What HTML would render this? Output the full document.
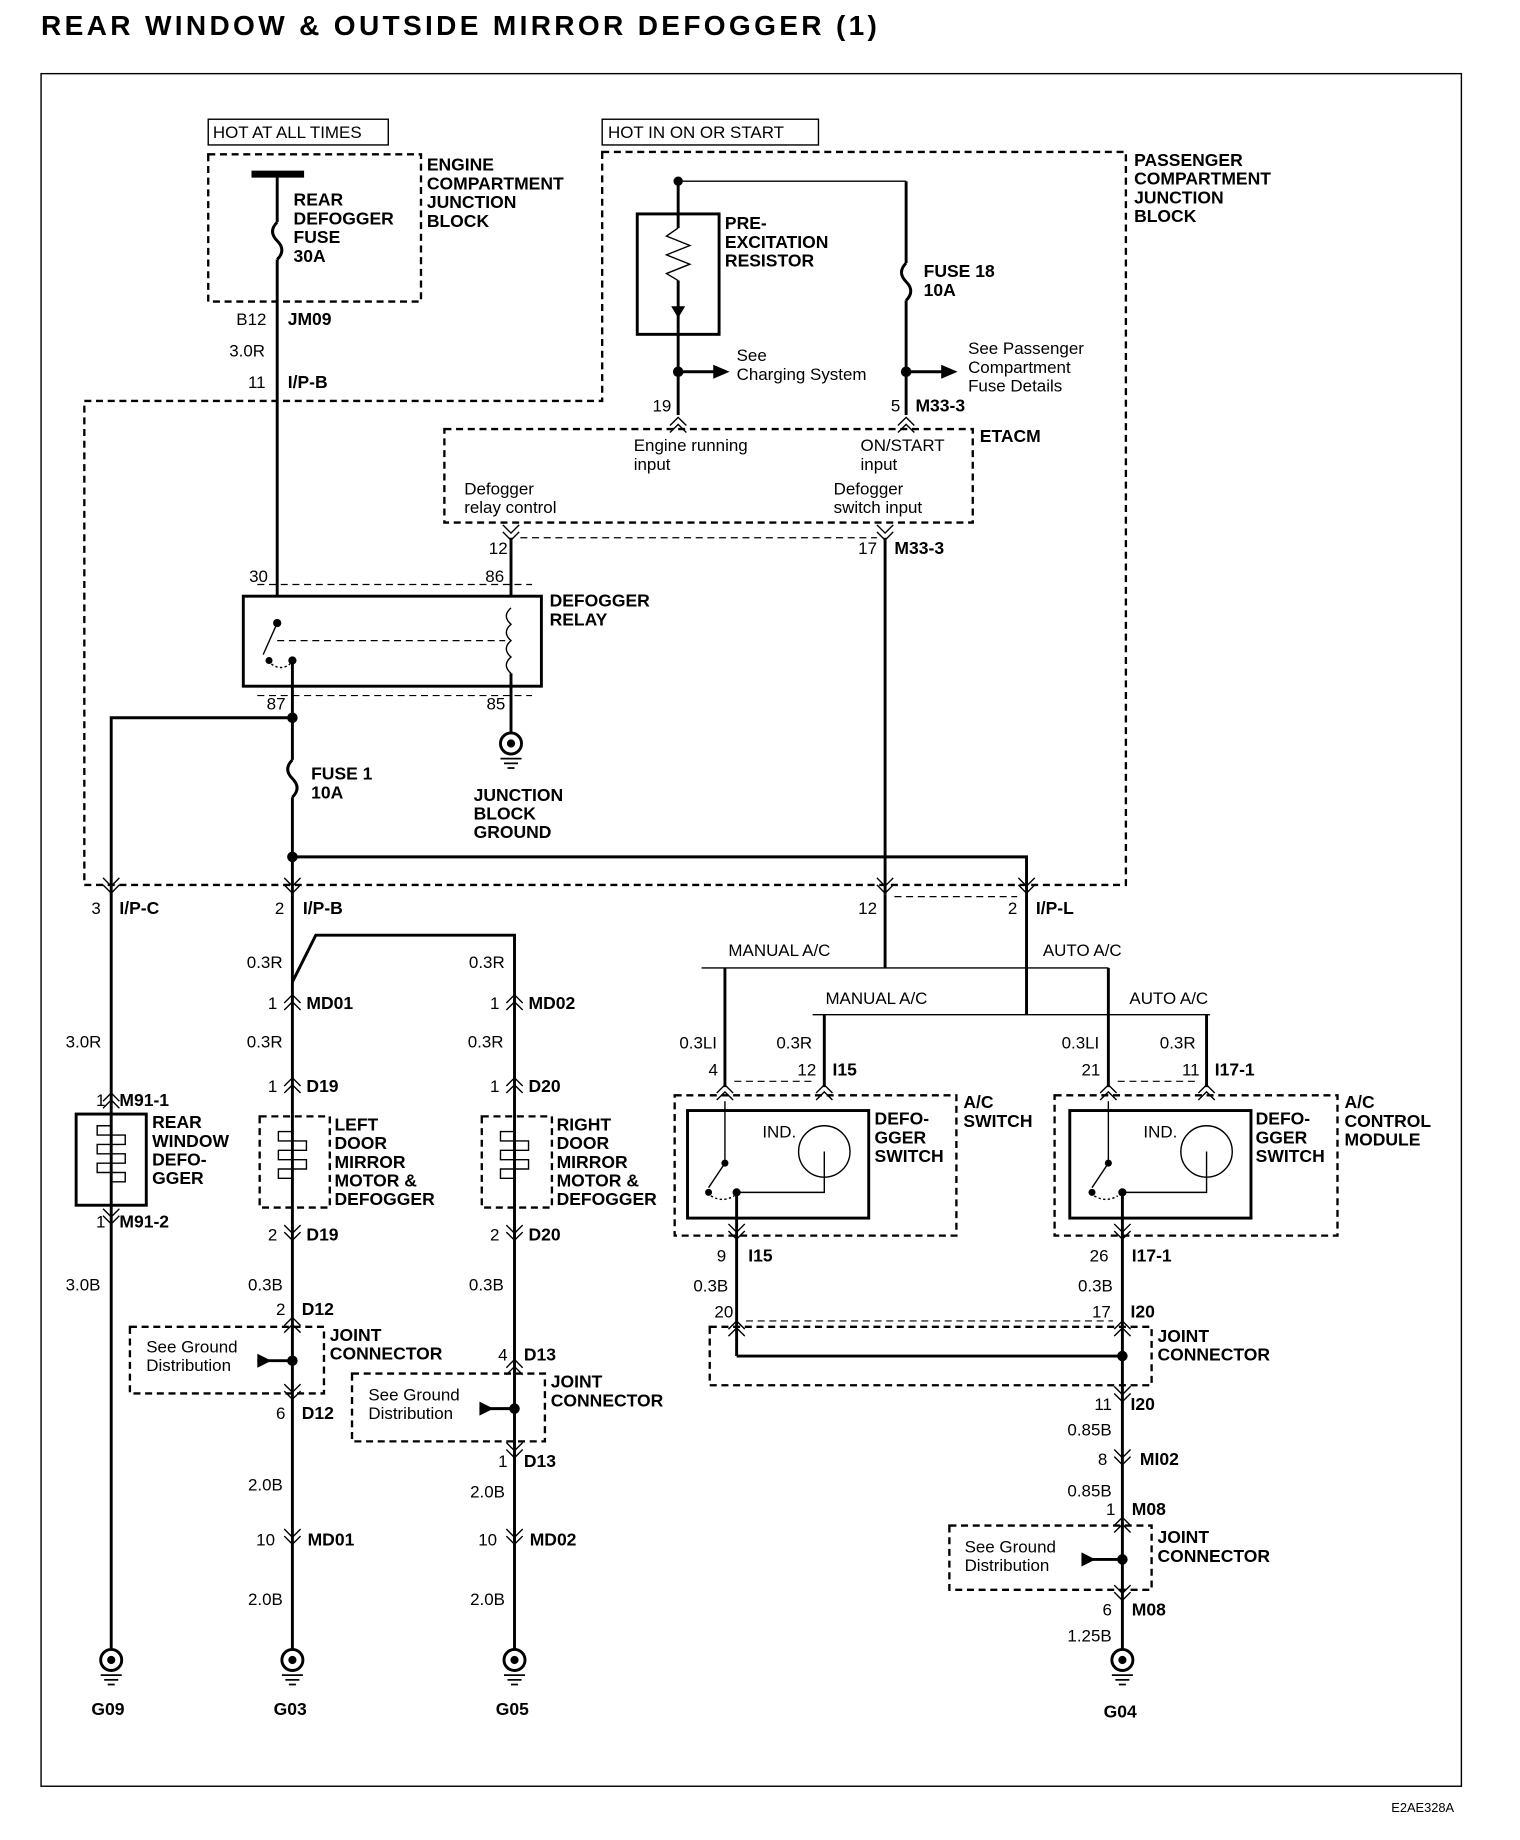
<!DOCTYPE html>
<html><head><meta charset="utf-8"><style>
html,body{margin:0;padding:0;background:#fff}
svg{display:block}
text{font-family:"Liberation Sans",Arial,sans-serif;fill:#000}
.b{font-weight:bold;font-size:15px}
.r{font-size:14.5px}
.w{stroke:#000;stroke-width:2.5;fill:none}
.d{stroke:#000;stroke-width:2;fill:none;stroke-dasharray:6,4}
.t{stroke:#000;stroke-width:1.2;fill:none}
</style></head><body>
<svg width="1520" height="1840" viewBox="0 0 1300 1574" xmlns="http://www.w3.org/2000/svg">
<defs>
<g id="gnd"><circle cx="0" cy="0" r="9" fill="#fff" stroke="#000" stroke-width="2.5"/><circle cx="0" cy="0" r="3.5" fill="#000"/><line x1="-9" y1="13" x2="9" y2="13" stroke="#000" stroke-width="1.5"/><line x1="-6" y1="17" x2="6" y2="17" stroke="#000" stroke-width="1.5"/><line x1="-3" y1="21" x2="3" y2="21" stroke="#000" stroke-width="1.5"/></g>
<g id="cd"><polyline points="-7,-6 0,1 7,-6" class="t"/><polyline points="-7,0 0,7 7,0" class="t"/></g>
<g id="cu"><polyline points="-7,6 0,-1 7,6" class="t"/><polyline points="-7,0 0,-7 7,0" class="t"/></g>
</defs>
<text x="35" y="30" textLength="715" lengthAdjust="spacing" style="font-weight:bold;font-size:24px">REAR WINDOW &amp; OUTSIDE MIRROR DEFOGGER (1)</text>
<rect x="35" y="63" width="1215" height="1465" class="t"/>
<text x="1190" y="1550" style="font-size:11px">E2AE328A</text>

<!-- top left -->
<rect x="178" y="102" width="154" height="22" class="t"/><text x="182" y="118" class="r">HOT AT ALL TIMES</text>
<rect x="178" y="132" width="182" height="126" class="d"/>
<text x="365" y="146" class="b">ENGINE</text><text x="365" y="162" class="b">COMPARTMENT</text><text x="365" y="178" class="b">JUNCTION</text><text x="365" y="194" class="b">BLOCK</text>
<line x1="215" y1="149" x2="260" y2="149" stroke="#000" stroke-width="6"/>
<line x1="237" y1="149" x2="237" y2="190" class="w"/>
<path d="M237 190 q-8 8 0 16 q8 8 0 16" class="w"/>
<line x1="237" y1="222" x2="237" y2="510" class="w"/>
<text x="251" y="176" class="b">REAR</text><text x="251" y="192" class="b">DEFOGGER</text><text x="251" y="208" class="b">FUSE</text><text x="251" y="224" class="b">30A</text>
<text x="202" y="278" class="r">B12</text><text x="246" y="278" class="b">JM09</text>
<text x="196" y="305" class="r">3.0R</text>
<text x="212" y="332" class="r">11</text><text x="246" y="332" class="b">I/P-B</text>

<!-- passenger box -->
<rect x="515" y="102" width="185" height="22" class="t"/><text x="520" y="118" class="r">HOT IN ON OR START</text>
<polygon points="515,130 963,130 963,757 72,757 72,343 515,343" class="d"/>
<text x="970" y="142" class="b">PASSENGER</text><text x="970" y="158" class="b">COMPARTMENT</text><text x="970" y="174" class="b">JUNCTION</text><text x="970" y="190" class="b">BLOCK</text>
<rect x="545" y="183" width="70" height="103" class="w"/>
<line x1="580" y1="155" x2="580" y2="195" class="w"/>
<polyline points="580,195 570,202 590,210 570,218 590,226 570,234 580,240" class="t"/>
<line x1="580" y1="240" x2="580" y2="355" class="w"/>
<polygon points="574,262 586,262 580,272" fill="#000"/>
<text x="620" y="196" class="b">PRE-</text><text x="620" y="212" class="b">EXCITATION</text><text x="620" y="228" class="b">RESISTOR</text>
<line x1="580" y1="155" x2="775" y2="155" class="t"/><circle cx="580" cy="155" r="4"/>
<line x1="775" y1="155" x2="775" y2="225" class="w"/>
<path d="M775 225 q-8 8 0 16 q8 8 0 16" class="w"/>
<line x1="775" y1="257" x2="775" y2="355" class="w"/>
<text x="790" y="237" class="b">FUSE 18</text><text x="790" y="253" class="b">10A</text>
<circle cx="580" cy="318" r="4.5"/><circle cx="775" cy="318" r="4.5"/>
<line x1="580" y1="318" x2="612" y2="318" class="w"/><polygon points="610,312 624,318 610,324" fill="#000"/>
<line x1="775" y1="318" x2="807" y2="318" class="w"/><polygon points="805,312 819,318 805,324" fill="#000"/>
<text x="630" y="309" class="r">See</text><text x="630" y="325" class="r">Charging System</text>
<text x="828" y="303" class="r">See Passenger</text><text x="828" y="319" class="r">Compartment</text><text x="828" y="335" class="r">Fuse Details</text>
<text x="558" y="352" class="r">19</text><text x="762" y="352" class="r">5</text><text x="783" y="352" class="b">M33-3</text>
<use href="#cu" x="580" y="364"/><use href="#cu" x="775" y="364"/>
<rect x="380" y="367" width="452" height="80" class="d"/>
<text x="838" y="378" class="b">ETACM</text>
<text x="542" y="386" class="r">Engine running</text><text x="542" y="402" class="r">input</text>
<text x="736" y="386" class="r">ON/START</text><text x="736" y="402" class="r">input</text>
<text x="397" y="423" class="r">Defogger</text><text x="397" y="439" class="r">relay control</text>
<text x="713" y="423" class="r">Defogger</text><text x="713" y="439" class="r">switch input</text>
<use href="#cd" x="437" y="455"/><use href="#cd" x="757" y="455"/>
<line x1="437" y1="460" x2="437" y2="510" class="w"/>
<line x1="757" y1="460" x2="757" y2="765" class="w"/>
<line x1="445" y1="460" x2="750" y2="460" class="d" style="stroke-width:1"/>
<text x="418" y="474" class="r">12</text><text x="734" y="474" class="r">17</text><text x="765" y="474" class="b">M33-3</text>
<text x="213" y="498" class="r">30</text><text x="415" y="498" class="r">86</text>

<!-- relay -->
<line x1="220" y1="500" x2="455" y2="500" class="d" style="stroke-width:1"/>
<line x1="220" y1="595" x2="455" y2="595" class="d" style="stroke-width:1"/>
<rect x="208" y="510" width="255" height="77" class="w"/>
<text x="470" y="519" class="b">DEFOGGER</text><text x="470" y="535" class="b">RELAY</text>
<circle cx="237" cy="533" r="3.5"/><line x1="237" y1="533" x2="225" y2="560" class="t"/>
<circle cx="230" cy="565" r="3"/><circle cx="250" cy="565" r="3.5"/>
<path d="M232 568 q8 6 16 0" class="t" stroke-dasharray="2,2"/>
<line x1="237" y1="548" x2="432" y2="548" class="d" style="stroke-width:1"/>
<line x1="250" y1="565" x2="250" y2="587" class="w"/>
<path d="M437 520 q-8 7 0 14 q-8 7 0 14 q-8 7 0 14 q-8 7 0 14" class="t"/>
<line x1="437" y1="576" x2="437" y2="587" class="w"/>
<text x="228" y="607" class="r">87</text><text x="416" y="607" class="r">85</text>
<line x1="437" y1="587" x2="437" y2="627" class="w"/>
<use href="#gnd" x="437" y="636"/>
<text x="405" y="685" class="b">JUNCTION</text><text x="405" y="701" class="b">BLOCK</text><text x="405" y="717" class="b">GROUND</text>
<line x1="250" y1="587" x2="250" y2="650" class="w"/>
<circle cx="250" cy="614" r="4.5"/>
<polyline points="250,614 95,614 95,1411" class="w"/>
<path d="M250 650 q-8 8 0 16 q8 8 0 16" class="w"/>
<line x1="250" y1="682" x2="250" y2="1411" class="w"/>
<text x="266" y="667" class="b">FUSE 1</text><text x="266" y="683" class="b">10A</text>
<circle cx="250" cy="733" r="4.5"/>
<polyline points="250,733 878,733 878,868" class="w"/>
<use href="#cd" x="95" y="757"/><use href="#cd" x="250" y="757"/><use href="#cd" x="757" y="757"/><use href="#cd" x="878" y="757"/>
<line x1="765" y1="767" x2="870" y2="767" class="d" style="stroke-width:1"/>
<text x="78" y="782" class="r">3</text><text x="102" y="782" class="b">I/P-C</text>
<text x="235" y="782" class="r">2</text><text x="259" y="782" class="b">I/P-B</text>
<text x="734" y="782" class="r">12</text><text x="862" y="782" class="r">2</text><text x="886" y="782" class="b">I/P-L</text>

<!-- left branches -->
<polyline points="250,840 270,800 440,800 440,1411" class="w"/>
<text x="211" y="828" class="r">0.3R</text><text x="401" y="828" class="r">0.3R</text>
<use href="#cu" x="250" y="858"/><use href="#cu" x="440" y="858"/>
<text x="229" y="863" class="r">1</text><text x="262" y="863" class="b">MD01</text>
<text x="419" y="863" class="r">1</text><text x="452" y="863" class="b">MD02</text>
<text x="56" y="896" class="r">3.0R</text><text x="211" y="896" class="r">0.3R</text><text x="400" y="896" class="r">0.3R</text>
<use href="#cu" x="250" y="929"/><use href="#cu" x="440" y="929"/>
<text x="229" y="934" class="r">1</text><text x="262" y="934" class="b">D19</text>
<text x="419" y="934" class="r">1</text><text x="452" y="934" class="b">D20</text>
<use href="#cu" x="95" y="942"/><text x="82" y="946" class="r">1</text><text x="102" y="946" class="b">M91-1</text>
<rect x="65" y="953" width="60" height="78" class="w" fill="#fff"/>
<path d="M95 953 v10 h-12 v8 h24 v8 h-24 v8 h24 v8 h-24 v8 h24 v8 h-12 v12" class="t"/>
<text x="130" y="965" class="b">REAR</text><text x="130" y="981" class="b">WINDOW</text><text x="130" y="997" class="b">DEFO-</text><text x="130" y="1013" class="b">GGER</text>
<use href="#cd" x="95" y="1040"/><text x="82" y="1050" class="r">1</text><text x="102" y="1050" class="b">M91-2</text>
<rect x="222" y="955" width="60" height="78" class="d"/>
<rect x="412" y="955" width="60" height="78" class="d"/>
<path d="M250 960 v8 h-12 v8 h24 v8 h-24 v8 h24 v8 h-24 v8 h12 v25" class="t" fill="#fff"/>
<path d="M440 960 v8 h-12 v8 h24 v8 h-24 v8 h24 v8 h-24 v8 h12 v25" class="t" fill="#fff"/>
<text x="286" y="967" class="b">LEFT</text><text x="286" y="983" class="b">DOOR</text><text x="286" y="999" class="b">MIRROR</text><text x="286" y="1015" class="b">MOTOR &amp;</text><text x="286" y="1031" class="b">DEFOGGER</text>
<text x="476" y="967" class="b">RIGHT</text><text x="476" y="983" class="b">DOOR</text><text x="476" y="999" class="b">MIRROR</text><text x="476" y="1015" class="b">MOTOR &amp;</text><text x="476" y="1031" class="b">DEFOGGER</text>
<use href="#cd" x="250" y="1054"/><use href="#cd" x="440" y="1054"/>
<text x="229" y="1061" class="r">2</text><text x="262" y="1061" class="b">D19</text>
<text x="419" y="1061" class="r">2</text><text x="452" y="1061" class="b">D20</text>
<text x="56" y="1104" class="r">3.0B</text><text x="212" y="1104" class="r">0.3B</text><text x="401" y="1104" class="r">0.3B</text>
<use href="#cu" x="250" y="1134"/><text x="236" y="1125" class="r">2</text><text x="258" y="1125" class="b">D12</text>
<rect x="111" y="1135" width="166" height="57" class="d"/>
<text x="125" y="1157" class="r">See Ground</text><text x="125" y="1173" class="r">Distribution</text>
<line x1="220" y1="1164" x2="250" y2="1164" class="w"/><polygon points="220,1158 232,1164 220,1170" fill="#000"/><circle cx="250" cy="1164" r="4.5"/>
<text x="282" y="1147" class="b">JOINT</text><text x="282" y="1163" class="b">CONNECTOR</text>
<use href="#cd" x="250" y="1190"/><text x="236" y="1214" class="r">6</text><text x="258" y="1214" class="b">D12</text>
<use href="#cu" x="440" y="1170"/><text x="426" y="1164" class="r">4</text><text x="448" y="1164" class="b">D13</text>
<rect x="301" y="1175" width="165" height="58" class="d"/>
<text x="315" y="1198" class="r">See Ground</text><text x="315" y="1214" class="r">Distribution</text>
<line x1="410" y1="1205" x2="440" y2="1205" class="w"/><polygon points="410,1199 422,1205 410,1211" fill="#000"/><circle cx="440" cy="1205" r="4.5"/>
<text x="471" y="1187" class="b">JOINT</text><text x="471" y="1203" class="b">CONNECTOR</text>
<use href="#cd" x="440" y="1240"/><text x="426" y="1255" class="r">1</text><text x="448" y="1255" class="b">D13</text>
<text x="212" y="1275" class="r">2.0B</text><text x="402" y="1281" class="r">2.0B</text>
<use href="#cd" x="250" y="1314"/><use href="#cd" x="440" y="1314"/>
<text x="219" y="1322" class="r">10</text><text x="263" y="1322" class="b">MD01</text>
<text x="409" y="1322" class="r">10</text><text x="453" y="1322" class="b">MD02</text>
<text x="212" y="1373" class="r">2.0B</text><text x="402" y="1373" class="r">2.0B</text>
<use href="#gnd" x="95" y="1420"/><use href="#gnd" x="250" y="1420"/><use href="#gnd" x="440" y="1420"/>
<text x="78" y="1467" class="b">G09</text><text x="234" y="1467" class="b">G03</text><text x="424" y="1467" class="b">G05</text>

<!-- right side -->
<line x1="757" y1="765" x2="757" y2="828" class="w"/>
<line x1="600" y1="828" x2="948" y2="828" class="t"/>
<line x1="620" y1="828" x2="620" y2="930" class="w"/>
<line x1="948" y1="828" x2="948" y2="930" class="w"/>
<line x1="695" y1="868" x2="1035" y2="868" class="t"/>
<line x1="705" y1="868" x2="705" y2="930" class="w"/>
<line x1="1032" y1="868" x2="1032" y2="930" class="w"/>
<text x="623" y="818" class="r">MANUAL A/C</text><text x="892" y="818" class="r">AUTO A/C</text>
<text x="706" y="859" class="r">MANUAL A/C</text><text x="966" y="859" class="r">AUTO A/C</text>
<text x="581" y="897" class="r">0.3LI</text><text x="664" y="897" class="r">0.3R</text>
<text x="908" y="897" class="r">0.3LI</text><text x="992" y="897" class="r">0.3R</text>
<text x="606" y="920" class="r">4</text><text x="682" y="920" class="r">12</text><text x="712" y="920" class="b">I15</text>
<text x="925" y="920" class="r">21</text><text x="1011" y="920" class="r">11</text><text x="1039" y="920" class="b">I17-1</text>
<line x1="628" y1="925" x2="697" y2="925" class="d" style="stroke-width:1"/>
<line x1="956" y1="925" x2="1024" y2="925" class="d" style="stroke-width:1"/>
<use href="#cu" x="620" y="935"/><use href="#cu" x="705" y="935"/><use href="#cu" x="948" y="935"/><use href="#cu" x="1032" y="935"/>
<rect x="577" y="937" width="241" height="120" class="d"/>
<rect x="902" y="937" width="242" height="120" class="d"/>
<rect x="588" y="950" width="155" height="92" class="w" fill="#fff"/>
<rect x="915" y="950" width="155" height="92" class="w" fill="#fff"/>
<text x="824" y="948" class="b">A/C</text><text x="824" y="964" class="b">SWITCH</text>
<text x="1150" y="948" class="b">A/C</text><text x="1150" y="964" class="b">CONTROL</text><text x="1150" y="980" class="b">MODULE</text>
<text x="748" y="962" class="b">DEFO-</text><text x="748" y="978" class="b">GGER</text><text x="748" y="994" class="b">SWITCH</text>
<text x="1074" y="962" class="b">DEFO-</text><text x="1074" y="978" class="b">GGER</text><text x="1074" y="994" class="b">SWITCH</text>
<text x="652" y="973" class="r">IND.</text><text x="978" y="973" class="r">IND.</text>
<circle cx="705" cy="985" r="22" class="t"/><circle cx="1032" cy="985" r="22" class="t"/>
<line x1="620" y1="942" x2="620" y2="995" class="t"/><circle cx="620" cy="995" r="3"/>
<line x1="620" y1="995" x2="606" y2="1016" class="t"/><circle cx="606" cy="1020" r="3"/><circle cx="630" cy="1020" r="3.5"/>
<path d="M608 1023 q10 6 20 0" class="t" stroke-dasharray="2,2"/>
<polyline points="630,1020 705,1020 705,985" class="t"/>
<line x1="948" y1="942" x2="948" y2="995" class="t"/><circle cx="948" cy="995" r="3"/>
<line x1="948" y1="995" x2="934" y2="1016" class="t"/><circle cx="934" cy="1020" r="3"/><circle cx="960" cy="1020" r="3.5"/>
<path d="M936 1023 q10 6 20 0" class="t" stroke-dasharray="2,2"/>
<polyline points="960,1020 1032,1020 1032,985" class="t"/>
<line x1="630" y1="1020" x2="630" y2="1160" class="w"/>
<line x1="960" y1="1020" x2="960" y2="1411" class="w"/>
<use href="#cd" x="630" y="1053"/><use href="#cd" x="960" y="1053"/>
<text x="613" y="1079" class="r">9</text><text x="640" y="1079" class="b">I15</text>
<text x="932" y="1079" class="r">26</text><text x="968" y="1079" class="b">I17-1</text>
<text x="593" y="1105" class="r">0.3B</text><text x="922" y="1105" class="r">0.3B</text>
<text x="611" y="1127" class="r">20</text><text x="934" y="1127" class="r">17</text><text x="967" y="1127" class="b">I20</text>
<line x1="638" y1="1130" x2="952" y2="1130" class="d" style="stroke-width:1"/>
<use href="#cu" x="630" y="1137"/><use href="#cu" x="960" y="1137"/>
<rect x="607" y="1135" width="378" height="50" class="d"/>
<line x1="630" y1="1160" x2="960" y2="1160" class="w"/><circle cx="960" cy="1160" r="4.5"/>
<text x="990" y="1148" class="b">JOINT</text><text x="990" y="1164" class="b">CONNECTOR</text>
<use href="#cd" x="960" y="1192"/><text x="936" y="1206" class="r">11</text><text x="967" y="1206" class="b">I20</text>
<text x="913" y="1228" class="r">0.85B</text>
<use href="#cd" x="960" y="1246"/><text x="939" y="1253" class="r">8</text><text x="975" y="1253" class="b">MI02</text>
<text x="913" y="1280" class="r">0.85B</text>
<text x="946" y="1296" class="r">1</text><text x="968" y="1296" class="b">M08</text>
<use href="#cu" x="960" y="1305"/>
<rect x="812" y="1305" width="173" height="55" class="d"/>
<text x="825" y="1328" class="r">See Ground</text><text x="825" y="1344" class="r">Distribution</text>
<line x1="925" y1="1334" x2="960" y2="1334" class="w"/><polygon points="925,1328 937,1334 925,1340" fill="#000"/><circle cx="960" cy="1334" r="4.5"/>
<text x="990" y="1320" class="b">JOINT</text><text x="990" y="1336" class="b">CONNECTOR</text>
<use href="#cd" x="960" y="1362"/><text x="943" y="1382" class="r">6</text><text x="968" y="1382" class="b">M08</text>
<text x="913" y="1404" class="r">1.25B</text>
<use href="#gnd" x="960" y="1420"/><text x="944" y="1469" class="b">G04</text>
</svg>
</body></html>
